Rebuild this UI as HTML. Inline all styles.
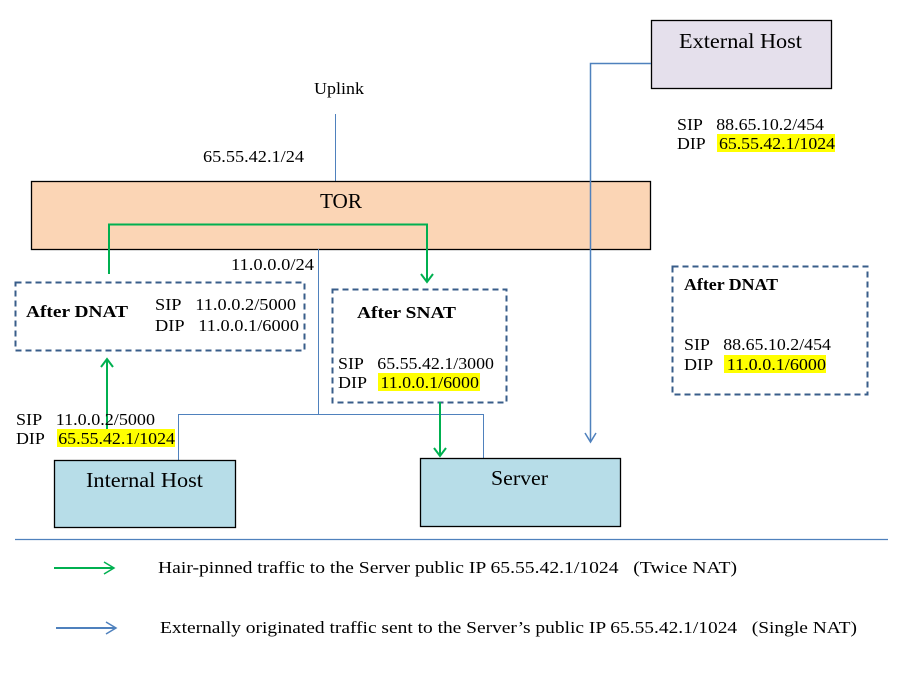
<!DOCTYPE html>
<html><head><meta charset="utf-8"><style>
html,body{margin:0;padding:0;background:#fff;}
svg{display:block;}
text{font-family:"Liberation Serif","Times New Roman",serif;}
</style></head><body>
<svg width="898" height="675" viewBox="0 0 898 675" xmlns="http://www.w3.org/2000/svg" font-size="17" font-family="Liberation Serif, serif">
<!-- Uplink -->
<text x="314" y="94" textLength="50" lengthAdjust="spacingAndGlyphs">Uplink</text>
<line x1="335.5" y1="114" x2="335.5" y2="181" stroke="#4f81bd" stroke-width="1"/>
<text x="203" y="162" textLength="101" lengthAdjust="spacingAndGlyphs">65.55.42.1/24</text>
<!-- TOR -->
<rect x="31.5" y="181.5" width="619" height="68" fill="#fbd5b5" stroke="#000" stroke-width="1.3"/>
<text x="320" y="208" font-size="21" textLength="42" lengthAdjust="spacingAndGlyphs">TOR</text>
<!-- subnet lines -->
<text x="231" y="270" textLength="83" lengthAdjust="spacingAndGlyphs">11.0.0.0/24</text>
<line x1="318.5" y1="249" x2="318.5" y2="414" stroke="#4f81bd"/>
<polyline points="178.5,460 178.5,414.5 483.5,414.5 483.5,458" fill="none" stroke="#4f81bd"/>
<!-- green hairpin -->
<polyline points="109,274 109,224.5 427,224.5 427,282" fill="none" stroke="#00b050" stroke-width="2"/>
<polyline points="421,274 427,282 433,274" fill="none" stroke="#00b050" stroke-width="2"/>
<!-- DNAT left -->
<rect x="15.5" y="282.5" width="289" height="68" fill="none" stroke="#385d8a" stroke-width="2" stroke-dasharray="6,4"/>
<text x="26" y="317" font-weight="bold" textLength="102" lengthAdjust="spacingAndGlyphs">After DNAT</text>
<text x="155" y="310" textLength="141" lengthAdjust="spacingAndGlyphs">SIP&#160;&#160; 11.0.0.2/5000</text>
<text x="155" y="331" textLength="144" lengthAdjust="spacingAndGlyphs">DIP&#160;&#160; 11.0.0.1/6000</text>
<!-- green up arrow -->
<line x1="107" y1="430" x2="107" y2="359" stroke="#00b050" stroke-width="2"/>
<polyline points="101,367 107,359 113,367" fill="none" stroke="#00b050" stroke-width="2"/>
<!-- internal host labels -->
<text x="16" y="425" textLength="139" lengthAdjust="spacingAndGlyphs">SIP&#160;&#160; 11.0.0.2/5000</text>
<rect x="57" y="429" width="118" height="18" fill="#ffff00"/>
<text x="16" y="444" textLength="159" lengthAdjust="spacingAndGlyphs">DIP&#160;&#160; 65.55.42.1/1024</text>
<rect x="54.5" y="460.5" width="181" height="67" fill="#b7dde8" stroke="#000" stroke-width="1.3"/>
<text x="86" y="487" font-size="21" textLength="117" lengthAdjust="spacingAndGlyphs">Internal Host</text>
<!-- SNAT -->
<rect x="332.5" y="289.5" width="174" height="113" fill="none" stroke="#385d8a" stroke-width="2" stroke-dasharray="6,4"/>
<text x="357" y="318" font-weight="bold" textLength="99" lengthAdjust="spacingAndGlyphs">After SNAT</text>
<text x="338" y="369" textLength="156" lengthAdjust="spacingAndGlyphs">SIP&#160;&#160; 65.55.42.1/3000</text>
<rect x="378" y="373" width="102" height="18" fill="#ffff00"/>
<text x="338" y="388" textLength="141" lengthAdjust="spacingAndGlyphs">DIP&#160;&#160; 11.0.0.1/6000</text>
<line x1="440" y1="402" x2="440" y2="456" stroke="#00b050" stroke-width="2"/>
<polyline points="434,448 440,456 446,448" fill="none" stroke="#00b050" stroke-width="2"/>
<!-- Server -->
<rect x="420.5" y="458.5" width="200" height="68" fill="#b7dde8" stroke="#000" stroke-width="1.3"/>
<text x="491" y="485" font-size="21" textLength="57" lengthAdjust="spacingAndGlyphs">Server</text>
<!-- External host -->
<rect x="651.5" y="20.5" width="180" height="68" fill="#e5e0ec" stroke="#000" stroke-width="1.3"/>
<text x="679" y="48" font-size="21" textLength="123" lengthAdjust="spacingAndGlyphs">External Host</text>
<polyline points="651,63.5 590.5,63.5 590.5,442" fill="none" stroke="#4f81bd" stroke-width="1.5"/>
<polyline points="585,433 590.5,442 596,433" fill="none" stroke="#4f81bd" stroke-width="1.5"/>
<text x="677" y="130" textLength="147" lengthAdjust="spacingAndGlyphs">SIP&#160;&#160; 88.65.10.2/454</text>
<rect x="717" y="134" width="118" height="18" fill="#ffff00"/>
<text x="677" y="149" textLength="158" lengthAdjust="spacingAndGlyphs">DIP&#160;&#160; 65.55.42.1/1024</text>
<!-- DNAT right -->
<rect x="672.5" y="266.5" width="195" height="128" fill="none" stroke="#385d8a" stroke-width="2" stroke-dasharray="6,4"/>
<text x="684" y="290" font-weight="bold" textLength="94" lengthAdjust="spacingAndGlyphs">After DNAT</text>
<text x="684" y="350" textLength="147" lengthAdjust="spacingAndGlyphs">SIP&#160;&#160; 88.65.10.2/454</text>
<rect x="724" y="355" width="102" height="18" fill="#ffff00"/>
<text x="684" y="370" textLength="142" lengthAdjust="spacingAndGlyphs">DIP&#160;&#160; 11.0.0.1/6000</text>
<!-- separator -->
<line x1="15" y1="539.5" x2="888" y2="539.5" stroke="#4f81bd" stroke-width="1.2"/>
<!-- legend -->
<line x1="54" y1="568" x2="114" y2="568" stroke="#00b050" stroke-width="2"/>
<polyline points="104,562 114,568 104,574" fill="none" stroke="#00b050" stroke-width="1.5"/>
<text x="158" y="573" textLength="579" lengthAdjust="spacingAndGlyphs">Hair-pinned traffic to the Server public IP 65.55.42.1/1024&#160;&#160; (Twice NAT)</text>
<line x1="56" y1="628" x2="116" y2="628" stroke="#4f81bd" stroke-width="2"/>
<polyline points="106,622 116,628 106,634" fill="none" stroke="#4f81bd" stroke-width="1.5"/>
<text x="160" y="633" textLength="697" lengthAdjust="spacingAndGlyphs">Externally originated traffic sent to the Server’s public IP 65.55.42.1/1024&#160;&#160; (Single NAT)</text>
</svg>
</body></html>
